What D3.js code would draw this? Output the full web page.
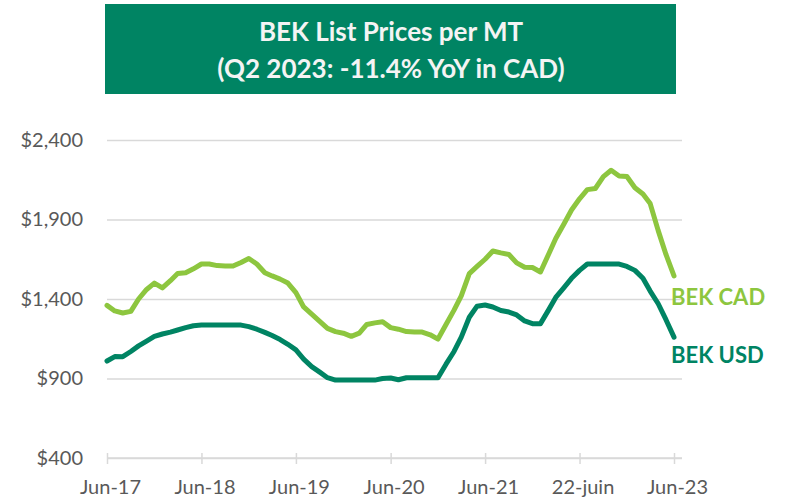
<!DOCTYPE html>
<html>
<head>
<meta charset="utf-8">
<script src="https://cdn.jsdelivr.net/npm/d3@7"></script>
<style>
  body { margin: 0; background: #fff; }
  svg { display: block; }
</style>
</head>
<body>
<div id="chart"></div>
<script>
// monthly list prices, Jun-17 .. Jun-23
var bekCad = [1360, 1325, 1312, 1322, 1400, 1460, 1500, 1470, 1515, 1560, 1565, 1590,
              1620, 1620, 1610, 1608, 1607, 1630, 1655, 1620, 1565, 1545, 1525, 1500,
              1440, 1350, 1305, 1260, 1215, 1195, 1185, 1165, 1185, 1240, 1250, 1257,
              1220, 1210, 1195, 1192, 1192, 1175, 1148, 1240, 1330, 1420, 1560, 1605,
              1650, 1702, 1690, 1680, 1627, 1600, 1598, 1570, 1680, 1780, 1870, 1960,
              2030, 2088, 2095, 2170, 2210, 2174, 2170, 2100, 2060, 2000, 1830, 1680,
              1545];
var bekUsd = [1010, 1038, 1037, 1070, 1105, 1135, 1165, 1180, 1192, 1205, 1220, 1232,
              1236, 1236, 1236, 1236, 1236, 1236, 1226, 1210, 1190, 1170, 1145, 1115,
              1080, 1022, 975, 940, 905, 890, 890, 890, 890, 890, 890, 900,
              903, 892, 905, 905, 905, 905, 905, 990, 1070, 1160, 1285, 1355,
              1362, 1350, 1328, 1318, 1300, 1262, 1245, 1245, 1330, 1410, 1470, 1530,
              1580, 1620, 1620, 1620, 1620, 1620, 1605, 1580, 1530, 1450, 1370, 1270,
              1160];
var months = d3.timeMonth.range(new Date(2017, 5, 1), new Date(2023, 6, 1));

var tickDates = [new Date(2017, 5, 1), new Date(2018, 5, 1), new Date(2019, 5, 1),
                 new Date(2020, 5, 1), new Date(2021, 5, 1), new Date(2022, 5, 1),
                 new Date(2023, 5, 1)];
var tickLabels = ["Jun-17", "Jun-18", "Jun-19", "Jun-20", "Jun-21", "22-juin", "Jun-23"];
var yTicks = [400, 900, 1400, 1900, 2400];

var titleLines = ["BEK List Prices per MT", "(Q2 2023: -11.4% YoY in CAD)"];

var width = 786, height = 502;
var font = "Lato, 'Open Sans', sans-serif";
var darkGreen = "#008463", lightGreen = "#8dc63f";

var svg = d3.select("#chart").append("svg")
    .attr("width", width)
    .attr("height", height);

var x = d3.scaleTime()
    .domain([months[0], months[months.length - 1]])
    .range([107, 674]);

var y = d3.scaleLinear()
    .domain([400, 2400])
    .range([458, 140]);

// title box
svg.append("rect")
    .attr("x", 105).attr("y", 4)
    .attr("width", 571).attr("height", 90)
    .attr("fill", darkGreen);

svg.selectAll(".title")
    .data(titleLines)
    .enter().append("text")
    .attr("class", "title")
    .attr("x", 391)
    .attr("y", function(d, i) { return 41 + i * 37; })
    .attr("text-anchor", "middle")
    .style("font-family", font)
    .style("font-weight", "bold")
    .style("font-size", "26px")
    .style("fill", "#f4f4f4")
    .text(function(d) { return d; });

// gridlines + y labels
var yAxis = svg.append("g")
    .attr("transform", "translate(107,0)")
    .call(d3.axisLeft(y).tickValues(yTicks).tickSize(-575).tickPadding(24)
        .tickFormat(function(d) { return "$" + d3.format(",")(d); }));
yAxis.select(".domain").remove();
yAxis.selectAll("line").attr("stroke", "#d9d9d9").attr("stroke-width", 1.5);
yAxis.selectAll("text")
    .style("font-family", font)
    .style("font-size", "20px")
    .style("fill", "#595959");

// x axis
var xAxis = svg.append("g")
    .attr("transform", "translate(0,458)")
    .call(d3.axisBottom(x).tickValues(tickDates).tickSizeInner(6).tickSizeOuter(0).tickPadding(16)
        .tickFormat(function(d, i) { return tickLabels[i]; }));
xAxis.select(".domain").attr("stroke", "#d9d9d9").attr("stroke-width", 1.5)
    .attr("d", "M107,0H682");
xAxis.selectAll(".tick line").attr("stroke", "#d9d9d9").attr("stroke-width", 1.5)
    .attr("y1", -5).attr("y2", 6);
xAxis.selectAll("text")
    .attr("dx", 3)
    .style("font-family", font)
    .style("font-size", "20px")
    .style("fill", "#595959");

var line = d3.line()
    .x(function(d, i) { return x(months[i]); })
    .y(function(d) { return y(d); });

svg.append("path")
    .datum(bekCad)
    .attr("d", line)
    .attr("fill", "none")
    .attr("stroke", lightGreen)
    .attr("stroke-width", 5)
    .attr("stroke-linejoin", "round")
    .attr("stroke-linecap", "round");

svg.append("path")
    .datum(bekUsd)
    .attr("d", line)
    .attr("fill", "none")
    .attr("stroke", darkGreen)
    .attr("stroke-width", 5)
    .attr("stroke-linejoin", "round")
    .attr("stroke-linecap", "round");

// series labels
svg.append("text")
    .attr("x", 671).attr("y", 305)
    .style("font-family", font).style("font-weight", "bold").style("font-size", "22px")
    .style("fill", lightGreen)
    .text("BEK CAD");

svg.append("text")
    .attr("x", 671).attr("y", 363)
    .style("font-family", font).style("font-weight", "bold").style("font-size", "22px")
    .style("fill", darkGreen)
    .text("BEK USD");
</script>
</body>
</html>
